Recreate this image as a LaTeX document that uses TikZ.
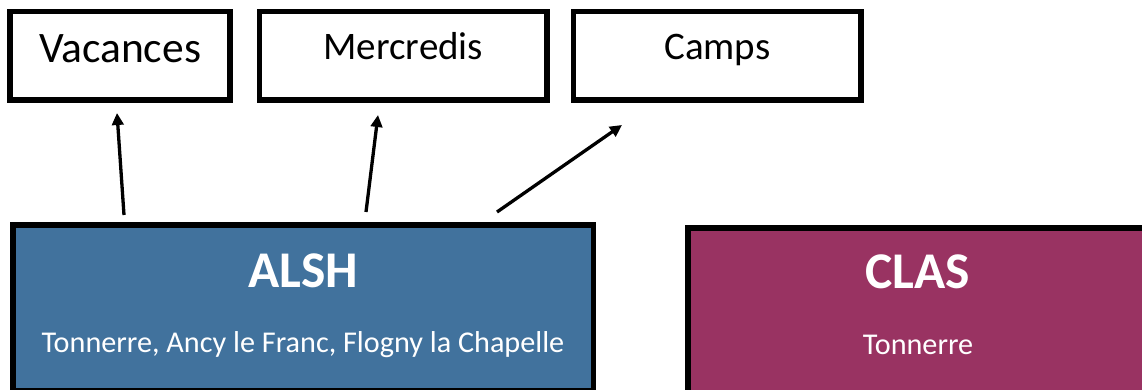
\documentclass[tikz,border=0pt]{standalone}
\usepackage{fontspec}
\setmainfont{Carlito}
\usetikzlibrary{arrows.meta}
\definecolor{alshblue}{RGB}{65,114,157}
\definecolor{clasred}{RGB}{153,51,98}
\tikzset{
  topbox/.style={draw=black, line width=5.5pt, fill=white, inner sep=0pt},
  bigbox/.style={draw=black, line width=5.5pt, inner sep=0pt},
  titletext/.style={text=white, font=\fontsize{51.5}{53}\selectfont\bfseries, anchor=base, inner sep=0pt},
  subtext/.style={text=white, font=\fontsize{30.2}{32}\selectfont, anchor=base, inner sep=0pt},
  link/.style={line width=3.3pt, -{Triangle[length=12pt,width=11.5pt]}}
}
\begin{document}
\begin{tikzpicture}[x=1pt,y=-1pt]
\useasboundingbox (0,0) rectangle (1142,390);
% top boxes
\node[topbox, minimum width=220pt, minimum height=88.5pt,
      text height=28pt, text depth=14pt,
      font=\fontsize{43.5}{45}\selectfont] (vac) at (120.1,55.7) {Vacances};
\node[topbox, minimum width=287.7pt, minimum height=88.5pt,
      text height=24pt, text depth=16pt,
      font=\fontsize{39}{40}\selectfont] (mer) at (403.3,55.7) {Mercredis};
\node[topbox, minimum width=287.5pt, minimum height=88.5pt,
      text height=24pt, text depth=16pt,
      font=\fontsize{39}{40}\selectfont] (cam) at (717.3,55.7) {Camps};
% big boxes
\node[bigbox, fill=alshblue, minimum width=580.5pt, minimum height=166pt] (alsh) at (303,307.8) {};
\node[bigbox, fill=clasred, minimum width=460pt, minimum height=166pt] (clas) at (918,310.8) {};
\node[titletext] (alshT) at (303,287) {ALSH};
\node[subtext] (alshS) at (303,352.5) {Tonnerre, Ancy le Franc, Flogny la Chapelle};
\node[titletext] (clasT) at (918,288) {CLAS};
\node[subtext] (clasS) at (918,354) {Tonnerre};
% connector ends
\coordinate (s1) at (124,215);
\coordinate (e1) at (117,113);
\coordinate (s2) at (366,212);
\coordinate (e2) at (378,115);
\coordinate (s3) at (497,212);
\coordinate (e3) at (622,125);
\draw[link] (s1) -- (e1);
\draw[link] (s2) -- (e2);
\draw[link] (s3) -- (e3);
\end{tikzpicture}
\end{document}
